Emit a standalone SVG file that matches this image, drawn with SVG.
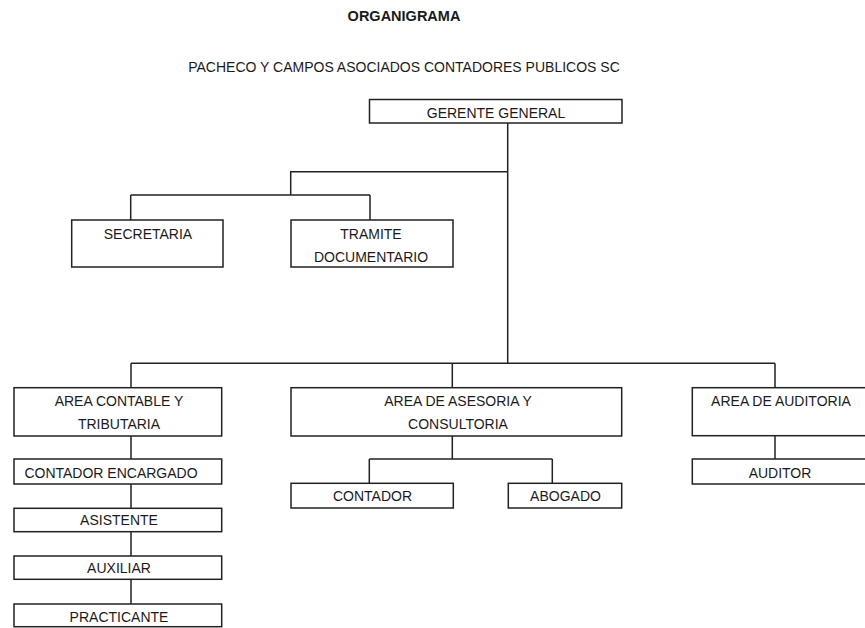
<svg xmlns="http://www.w3.org/2000/svg" width="865" height="628" viewBox="0 0 865 628">
<style>
.box{fill:#fff;stroke:#222;stroke-width:1.5}
.t{font-family:"Liberation Sans",Arial,sans-serif;font-size:14px;fill:#1a1a1a;text-anchor:middle}
.title{font-weight:bold;font-size:14.5px}
.c{fill:none;stroke:#222;stroke-width:1.5}
</style>
<rect width="865" height="628" fill="#fff"/>
<text class="t title" x="404" y="21">ORGANIGRAMA</text>
<text class="t" x="404" y="71.5">PACHECO Y CAMPOS ASOCIADOS CONTADORES PUBLICOS SC</text>
<g id="connectors">
<path class="c" d="M507.7,123 V363.3 M507.7,171.7 H290.7 V195 M130.7,195 H370 M130.7,195 V220 M370,195 V220"/>
<path class="c" d="M131,363.3 H775 M131,363.3 V387.7 M452.3,363.3 V387.7 M775,363.3 V387.7"/>
<path class="c" d="M131,436 V459 M131,484 V508.3 M131,531.7 V556 M131,579.3 V604"/>
<path class="c" d="M452.3,436 V459 M369.3,459 H552.3 M369.3,459 V483.3 M552.3,459 V483.3"/>
<path class="c" d="M775,435.7 V459"/>
</g>
<g id="gerente"><rect class="box" x="369.5" y="99.5" width="252.5" height="23.5"/><text class="t" x="496" y="117.5">GERENTE GENERAL</text></g>
<g id="secretaria"><rect class="box" x="71.7" y="220" width="151.3" height="47"/><text class="t" x="148" y="239">SECRETARIA</text></g>
<g id="tramite"><rect class="box" x="291" y="220" width="162" height="47"/><text class="t" x="371" y="239">TRAMITE</text><text class="t" x="371" y="262">DOCUMENTARIO</text></g>
<g id="area-contable"><rect class="box" x="14" y="387.7" width="207.7" height="48.3"/><text class="t" x="119" y="406">AREA CONTABLE Y</text><text class="t" x="119" y="429">TRIBUTARIA</text></g>
<g id="contador-encargado"><rect class="box" x="14" y="459" width="207.7" height="25"/><text class="t" x="111" y="478">CONTADOR ENCARGADO</text></g>
<g id="asistente"><rect class="box" x="14" y="508.3" width="207.7" height="23.4"/><text class="t" x="119" y="525">ASISTENTE</text></g>
<g id="auxiliar"><rect class="box" x="14" y="556" width="207.7" height="23.3"/><text class="t" x="119" y="573">AUXILIAR</text></g>
<g id="practicante"><rect class="box" x="14" y="604" width="207.7" height="22.7"/><text class="t" x="119" y="621.5">PRACTICANTE</text></g>
<g id="area-asesoria"><rect class="box" x="291" y="387.7" width="330.7" height="48.3"/><text class="t" x="458" y="406">AREA DE ASESORIA Y</text><text class="t" x="458" y="429">CONSULTORIA</text></g>
<g id="contador"><rect class="box" x="291" y="483.3" width="162.3" height="24.7"/><text class="t" x="372.5" y="500.7">CONTADOR</text></g>
<g id="abogado"><rect class="box" x="508.3" y="483.3" width="113.4" height="24.7"/><text class="t" x="565.5" y="500.7">ABOGADO</text></g>
<g id="area-auditoria"><rect class="box" x="692.3" y="387.7" width="176" height="48"/><text class="t" x="781" y="406">AREA DE AUDITORIA</text></g>
<g id="auditor"><rect class="box" x="692.3" y="459" width="176" height="25"/><text class="t" x="780" y="478">AUDITOR</text></g>
</svg>
